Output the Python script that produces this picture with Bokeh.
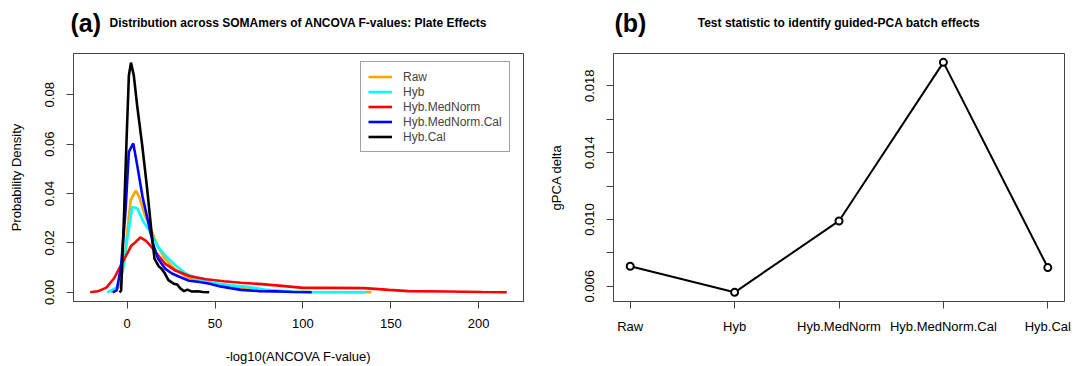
from bokeh.plotting import figure
from bokeh.models import Legend, LegendItem, FixedTicker, NumeralTickFormatter
from bokeh.core.properties import value
from bokeh.layouts import row, column
from bokeh.embed import file_html
from bokeh.resources import INLINE

FONT = "Liberation Sans"

# ---- Panel (a): density curves ----
series_names = ["Raw", "Hyb", "Hyb.MedNorm", "Hyb.MedNorm.Cal", "Hyb.Cal"]
series_colors = ["orange", "cyan", "red", "blue", "black"]

raw_x = [-9.5, -4.9, -2, -0.4, 2, 4.9, 6.9, 9.8, 13.7, 17.6, 21.6, 27.5, 33.3, 39.2, 47, 56.9, 64.7, 72.5, 84.3, 104, 120, 139]
raw_y = [0, 0.002, 0.0103, 0.021, 0.0373, 0.0412, 0.0386, 0.0319, 0.0251, 0.0184, 0.0136, 0.0092, 0.0065, 0.0049, 0.0038, 0.0028, 0.0019, 0.0011, 0.0004, 0.0001, 0.0, 0]

hyb_x = [-11.4, -5.9, -2.4, 0, 2.9, 5.9, 8.8, 13.7, 17.6, 21.6, 27.5, 33.3, 41.2, 49, 58.8, 68.6, 78.4, 90, 105, 120, 136]
hyb_y = [0, 0.0019, 0.0089, 0.021, 0.0346, 0.0339, 0.0292, 0.0238, 0.0184, 0.015, 0.011, 0.0076, 0.0051, 0.0038, 0.0028, 0.0022, 0.0011, 0.0004, 0.0001, 0.0, 0]

mednorm_x = [-21, -16.7, -11.8, -7.3, -3.5, -1, 2.5, 4.9, 7.5, 10.8, 14.7, 17.6, 21.6, 27.5, 35.3, 45, 55, 64.7, 76.5, 88, 100, 113.7, 135, 149, 160, 182, 202, 216]
mednorm_y = [0, 0.0004, 0.0019, 0.0058, 0.011, 0.0143, 0.019, 0.0204, 0.0222, 0.0208, 0.0177, 0.015, 0.0116, 0.0088, 0.0066, 0.0053, 0.0045, 0.0039, 0.0033, 0.0026, 0.0018, 0.0018, 0.0017, 0.001, 0.0005, 0.0003, 0.0001, 0]

mednormcal_x = [-8.2, -5.9, -3.5, -1, 1, 3.5, 5.9, 8.8, 11.8, 14.7, 17.6, 21.6, 25.5, 30.4, 35.3, 41.2, 47, 53, 58.8, 64.7, 74.5, 84.3, 94, 105]
mednormcal_y = [0, 0.0008, 0.0103, 0.0319, 0.0569, 0.0603, 0.0508, 0.0386, 0.0292, 0.0197, 0.0136, 0.0096, 0.0076, 0.0061, 0.0047, 0.0042, 0.0035, 0.0024, 0.0017, 0.001, 0.0005, 0.0004, 0.0001, 0]

cal_x = [-4.3, -3.4, -1.9, -0.3, 1, 2.2, 3.8, 5.7, 8.6, 11.4, 13.7, 15.6, 18, 19.6, 21.6, 23.5, 26.5, 28.4, 30.4, 32.4, 34.3, 36.9, 40.2, 43, 46.7]
cal_y = [0, 0.0007, 0.0284, 0.062, 0.0878, 0.093, 0.0878, 0.0757, 0.0595, 0.0419, 0.0257, 0.0135, 0.0105, 0.0095, 0.0075, 0.0049, 0.0035, 0.0032, 0.0015, 0.0005, 0.0011, 0.0003, 0.0004, 0.0001, 0]

left_xticks = [0, 50, 100, 150, 200]
left_yticks = [0.0, 0.02, 0.04, 0.06, 0.08]

# ---- Panel (b): gPCA delta ----
methods = ["Raw", "Hyb", "Hyb.MedNorm", "Hyb.MedNorm.Cal", "Hyb.Cal"]
gpca_delta = [0.0072, 0.00564, 0.00991, 0.0194, 0.00712]
right_yticks_major = [0.006, 0.010, 0.014, 0.018]
right_yticks_minor = [0.008, 0.012, 0.016]

panel_tags = ["(a)", "(b)"]
panel_titles = ["Distribution across SOMAmers of ANCOVA F-values: Plate Effects",
                "Test statistic to identify guided-PCA batch effects"]

AXIS_COLOR = "#444444"


def style_axes(p):
    p.outline_line_color = AXIS_COLOR
    p.outline_line_width = 1
    p.xgrid.visible = False
    p.ygrid.visible = False
    for ax in (p.xaxis[0], p.yaxis[0]):
        ax.axis_line_color = AXIS_COLOR
        ax.major_tick_line_color = AXIS_COLOR
        ax.minor_tick_line_color = AXIS_COLOR
        ax.major_tick_out = 7
        ax.major_tick_in = 0
        ax.minor_tick_out = 0
        ax.minor_tick_in = 0
        ax.major_label_text_font = FONT
        ax.major_label_text_font_size = "13px"
        ax.major_label_text_color = "black"
        ax.axis_label_text_font = FONT
        ax.axis_label_text_font_size = "13px"
        ax.axis_label_text_font_style = "normal"
        ax.axis_label_text_color = "black"
    p.xaxis[0].major_label_standoff = 10
    p.yaxis[0].major_label_standoff = 12
    p.yaxis[0].major_label_orientation = "vertical"


# Header with panel tags and titles
header = figure(width=1077, height=53, output_backend="svg", toolbar_location=None,
                title=None, x_range=(0, 1077), y_range=(53, 0),
                x_axis_location=None, y_axis_location=None,
                min_border=0, min_border_left=0, min_border_right=0,
                min_border_top=0, min_border_bottom=0)
header.outline_line_color = None
header.grid.visible = False
header.text(x=[70, 614], y=[22, 22], text=panel_tags, text_font=value(FONT),
            text_font_size="25px", text_font_style="bold", text_align="left",
            text_baseline="middle", text_color="black")
header.text(x=[298, 838.5], y=[22, 22], text=panel_titles, text_font=value(FONT),
            text_font_size="12px", text_font_style="bold", text_align="center",
            text_baseline="middle", text_color="black")

# Left figure
p1 = figure(width=540, height=313, output_backend="svg", toolbar_location=None, title=None,
            x_range=(-30.5, 225.5), y_range=(-0.00372, 0.0967),
            min_border_left=73, min_border_right=17, min_border_top=0, min_border_bottom=65)
style_axes(p1)
p1.xaxis[0].ticker = FixedTicker(ticks=left_xticks)
p1.yaxis[0].ticker = FixedTicker(ticks=left_yticks)
p1.yaxis[0].formatter = NumeralTickFormatter(format="0.00")
p1.xaxis[0].axis_label = "-log10(ANCOVA F-value)"
p1.yaxis[0].axis_label = "Probability Density"
p1.xaxis[0].axis_label_standoff = 18
p1.yaxis[0].axis_label_standoff = 19

xs = [raw_x, hyb_x, mednorm_x, mednormcal_x, cal_x]
ys = [raw_y, hyb_y, mednorm_y, mednormcal_y, cal_y]
renderers = []
for sx, sy, c in zip(xs, ys, series_colors):
    r = p1.line(sx, sy, line_color=c, line_width=2.6)
    renderers.append(r)

legend = Legend(items=[LegendItem(label=n, renderers=[r]) for n, r in zip(series_names, renderers)],
                location=(287, 149), orientation="vertical",
                glyph_width=24, glyph_height=15, label_height=15, spacing=0,
                padding=7, label_standoff=11, margin=0,
                label_text_font=FONT, label_text_font_size="12px",
                border_line_color=AXIS_COLOR, border_line_width=1,
                background_fill_color="white", background_fill_alpha=1.0)
p1.add_layout(legend)

# Right figure
xpos = [i + 1 for i in range(len(methods))]
p2 = figure(width=537, height=313, output_backend="svg", toolbar_location=None, title=None,
            x_range=(0.84, 5.16), y_range=(0.00509, 0.01993),
            min_border_left=73, min_border_right=13, min_border_top=0, min_border_bottom=65)
style_axes(p2)
p2.xaxis[0].ticker = FixedTicker(ticks=xpos)
p2.xaxis[0].major_label_overrides = {i + 1: m for i, m in enumerate(methods)}
p2.yaxis[0].ticker = FixedTicker(ticks=right_yticks_major, minor_ticks=right_yticks_minor)
p2.yaxis[0].minor_tick_out = 7
p2.yaxis[0].minor_tick_line_color = AXIS_COLOR
p2.yaxis[0].formatter = NumeralTickFormatter(format="0.000")
p2.yaxis[0].axis_label = "gPCA delta"
p2.yaxis[0].axis_label_standoff = 19

p2.line(xpos, gpca_delta, line_color="black", line_width=2)
p2.scatter(xpos, gpca_delta, marker="circle", size=7, line_color="black", line_width=2,
           fill_color="white")

layout = column(header, row(p1, p2))
open("out.html", "w").write(file_html(layout, INLINE))
